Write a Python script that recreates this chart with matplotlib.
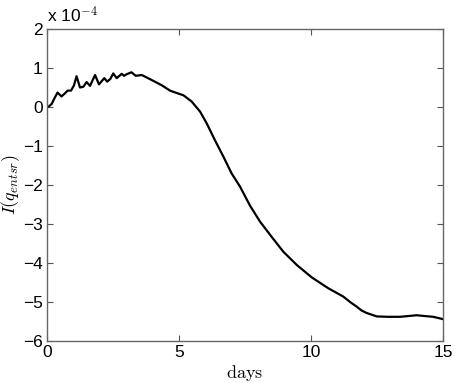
import numpy as np
import matplotlib.pyplot as plt

# values, y in units of 1e-4
days = [0.0, 0.08, 0.18, 0.28, 0.4, 0.55, 0.68, 0.78, 0.91, 1.02, 1.12, 1.25, 1.38, 1.5, 1.63,
        1.82, 1.97, 2.17, 2.28, 2.4, 2.51, 2.64, 2.83, 2.92, 3.02, 3.2, 3.36, 3.59, 3.97,
        4.34, 4.66, 4.78, 5.17, 5.48, 5.8, 6.05, 6.36, 6.68, 6.99, 7.31, 7.69, 8.07,
        8.51, 8.95, 9.46, 10.03, 10.66, 11.22, 11.48, 11.73, 11.92, 12.1, 12.49, 12.9,
        13.37, 13.7, 14.0, 14.3, 14.63, 15.0]
info = [0.0, 0.02, 0.08, 0.22, 0.37, 0.27, 0.35, 0.42, 0.42, 0.55, 0.79, 0.5, 0.52, 0.64, 0.54,
        0.82, 0.58, 0.74, 0.65, 0.72, 0.86, 0.74, 0.85, 0.8, 0.84, 0.89, 0.8, 0.82, 0.69,
        0.56, 0.42, 0.39, 0.3, 0.14, -0.12, -0.42, -0.85, -1.27, -1.70, -2.04, -2.53, -2.94,
        -3.33, -3.71, -4.05, -4.37, -4.65, -4.86, -5.0, -5.12, -5.22, -5.28, -5.37, -5.38,
        -5.38, -5.36, -5.34, -5.36, -5.38, -5.44]

xticks = [0, 5, 10, 15]
yticks = [-6, -5, -4, -3, -2, -1, 0, 1, 2]

plt.rcParams['font.family'] = ['Liberation Sans', 'DejaVu Sans']
plt.rcParams['mathtext.fontset'] = 'cm'

fig = plt.figure(figsize=(4.57, 3.83), dpi=100)
ax = fig.add_axes([0.1028, 0.1097, 0.8666, 0.8146])
ax.plot(days, info, color='black', lw=1.6)

ax.set_xlim(0, 15)
ax.set_ylim(-6, 2)
ax.set_xticks(xticks)
ax.set_yticks(yticks)
ax.set_xticklabels([str(t) for t in xticks])
ax.set_yticklabels([str(t).replace('-', '\u2212') for t in yticks])
ax.tick_params(direction='in', length=4, width=0.8, color='#555555',
               labelsize=12.5, top=True, right=True, pad=3)
for s in ax.spines.values():
    s.set_color('#666666')
    s.set_linewidth(1.0)

ax.set_xlabel(r'$\mathrm{days}$', fontsize=13, labelpad=2)
ax.set_ylabel(r'$I(q_{entsr})$', fontsize=13)
ax.yaxis.set_label_coords(-0.062, 0.5)
ax.text(0.0, 1.01, r'x 10$^{-4}$', transform=ax.transAxes, fontsize=12.5,
        ha='left', va='bottom')

fig.savefig('out.png', dpi=100)
